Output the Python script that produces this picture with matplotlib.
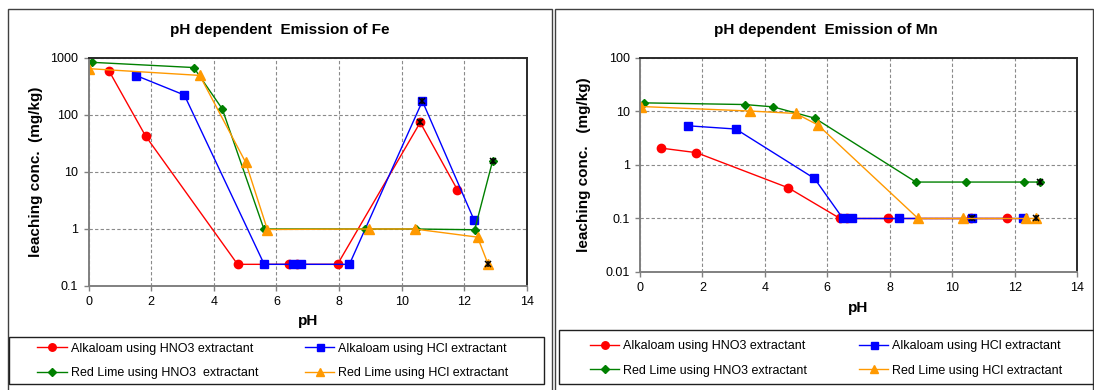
import numpy as np
import matplotlib
matplotlib.use("Agg")
import matplotlib.pyplot as plt
from matplotlib import ticker
from matplotlib.patches import Rectangle

plt.rcParams['font.family'] = ['Liberation Sans', 'DejaVu Sans']

# legend texts (left and right charts differ by one space)
fe_labels = ['Alkaloam using HNO3 extractant', 'Alkaloam using HCl extractant',
             'Red Lime using HNO3  extractant', 'Red Lime using HCl extractant']
mn_labels = ['Alkaloam using HNO3 extractant', 'Alkaloam using HCl extractant',
             'Red Lime using HNO3 extractant', 'Red Lime using HCl extractant']

# --- Fe (mg/kg) vs pH
fe_an_ph = [0.65, 1.82, 4.76, 6.41, 6.65, 7.95, 10.59, 11.78]
fe_an_c = [600, 43, 0.24, 0.24, 0.24, 0.24, 74, 4.85]
fe_ac_ph = [1.53, 3.06, 5.61, 6.52, 6.80, 8.33, 10.66, 12.31]
fe_ac_c = [490, 224, 0.24, 0.24, 0.24, 0.24, 175, 1.44]
fe_rn_ph = [0.11, 3.36, 4.27, 5.60, 8.83, 10.45, 12.33, 12.90]
fe_rn_c = [840, 680, 128, 1.0, 1.0, 1.0, 0.97, 15.5]
fe_rc_ph = [0.02, 3.55, 5.02, 5.71, 8.95, 10.41, 12.42, 12.76]
fe_rc_c = [650, 495, 14.7, 0.98, 1.0, 1.0, 0.72, 0.24]
fe_flags = [6, 6, 7, 7]   # index of the point with the black star in each series

# --- Mn (mg/kg) vs pH
mn_an_ph = [0.67, 1.81, 4.75, 6.41, 6.62, 7.93, 10.59, 11.75]
mn_an_c = [2.07, 1.7, 0.375, 0.1, 0.1, 0.1, 0.1, 0.1]
mn_ac_ph = [1.55, 3.07, 5.59, 6.50, 6.78, 8.29, 10.63, 12.26]
mn_ac_c = [5.4, 4.7, 0.56, 0.1, 0.1, 0.1, 0.1, 0.1]
mn_rn_ph = [0.14, 3.35, 4.27, 5.60, 8.84, 10.44, 12.31, 12.83]
mn_rn_c = [14.5, 13.5, 12.2, 7.5, 0.48, 0.48, 0.48, 0.48]
mn_rc_ph = [0.03, 3.53, 4.99, 5.70, 8.91, 10.36, 12.37, 12.69]
mn_rc_c = [12.4, 10.2, 9.2, 5.6, 0.1, 0.1, 0.1, 0.1]
mn_flags = [6, 6, 7, 7]

# styles: red circles, blue squares, green diamonds, orange triangles
styles = [('#FF0000', 'o', 6.0), ('#0000FF', 's', 5.6),
          ('#008000', 'D', 4.0), ('#FF9900', '^', 6.5)]

W, H = 1094, 390
fig = plt.figure(figsize=(W / 100, H / 100), dpi=100)


def px(x0, y0, x1, y1):
    # pixel box -> figure fraction rect
    return [x0 / W, 1 - y1 / H, (x1 - x0) / W, (y1 - y0) / H]


def draw(ax, data, flags, ylim, yticks):
    handles = []
    for (ph, c), (col, mk, ms), k in zip(data, styles, flags):
        ln, = ax.plot(ph, c, color=col, marker=mk, ms=ms, lw=1.0, mec=col)
        handles.append(ln)
        ax.plot(ph[k], c[k], 'x', color='black', ms=4.5, mew=1.1)
        ax.plot(ph[k], c[k], '|', color='black', ms=4.5, mew=1.1)
    ax.set_yscale('log')
    ax.set_ylim(*ylim)
    ax.set_xlim(0, 14)
    ax.set_xticks(range(0, 15, 2))
    ax.yaxis.set_major_locator(ticker.FixedLocator(yticks))
    ax.yaxis.set_minor_locator(ticker.NullLocator())
    ax.yaxis.set_major_formatter(ticker.FuncFormatter(lambda v, p: f'{v:g}'))
    ax.grid(True, which='major', color='#8a8a8a', ls=(0, (3, 2)), lw=0.8)
    ax.set_axisbelow(True)
    for s in ['left', 'bottom']:
        ax.spines[s].set_color('#808080')
        ax.spines[s].set_linewidth(1.4)
    for s in ['top', 'right']:
        ax.spines[s].set_color('#2a2a2a')
        ax.spines[s].set_linewidth(1.4)
    ax.tick_params(direction='out', length=3.5, width=1, color='#808080',
                   labelsize=9, pad=4)
    return handles


# outer chart frames
for box in [(8.4, 9.3, 551.5, 392), (555, 9.3, 1093, 392)]:
    fig.add_artist(Rectangle((box[0] / W, 1 - box[3] / H), (box[2] - box[0]) / W,
                             (box[3] - box[1]) / H, transform=fig.transFigure,
                             fill=False, ec='#404040', lw=1.0))
# legend boxes
for box in [(8.7, 336.7, 543.7, 384), (558.7, 330, 1094, 384)]:
    fig.add_artist(Rectangle((box[0] / W, 1 - box[3] / H), (box[2] - box[0]) / W,
                             (box[3] - box[1]) / H, transform=fig.transFigure,
                             fill=False, ec='#202020', lw=1.0))

ax1 = fig.add_axes(px(88.5, 58, 527, 286))
h1 = draw(ax1, [(fe_an_ph, fe_an_c), (fe_ac_ph, fe_ac_c),
                (fe_rn_ph, fe_rn_c), (fe_rc_ph, fe_rc_c)],
          fe_flags, (0.1, 1000), [0.1, 1, 10, 100, 1000])
ax2 = fig.add_axes(px(640, 58, 1077, 272))
h2 = draw(ax2, [(mn_an_ph, mn_an_c), (mn_ac_ph, mn_ac_c),
                (mn_rn_ph, mn_rn_c), (mn_rc_ph, mn_rc_c)],
          mn_flags, (0.01, 100), [0.01, 0.1, 1, 10, 100])

fig.text(280 / W, 1 - 30 / H, 'pH dependent  Emission of Fe', ha='center',
         va='center', fontsize=11, fontweight='bold')
fig.text(826 / W, 1 - 30 / H, 'pH dependent  Emission of Mn', ha='center',
         va='center', fontsize=11, fontweight='bold')

ax1.set_ylabel('leaching conc.  (mg/kg)', fontsize=11, fontweight='bold')
ax1.yaxis.set_label_coords(-0.104, 0.5)
ax2.set_ylabel('leaching conc.   (mg/kg)', fontsize=11, fontweight='bold')
ax2.yaxis.set_label_coords(-0.112, 0.5)
ax1.set_xlabel('pH', fontsize=11, fontweight='bold')
ax1.xaxis.set_label_coords(0.5, -0.125)
ax2.set_xlabel('pH', fontsize=11, fontweight='bold')
ax2.xaxis.set_label_coords(0.5, -0.135)

# legends: one per column so the wide spacing matches
leg_kw = dict(loc='center left', frameon=False, fontsize=9, borderpad=0,
              borderaxespad=0, handlelength=2.35, handletextpad=0.3,
              labelspacing=1.0, numpoints=1, markerscale=0.9)
for hs, labs, xs, yc in [(h1, fe_labels, (37.4, 305), 360.8),
                         (h2, mn_labels, (590, 859), 358.4)]:
    fig.legend([hs[0], hs[2]], [labs[0], labs[2]],
               bbox_to_anchor=(xs[0] / W, 1 - yc / H), **leg_kw)
    fig.legend([hs[1], hs[3]], [labs[1], labs[3]],
               bbox_to_anchor=(xs[1] / W, 1 - yc / H), **leg_kw)

fig.savefig('out.png', dpi=100)
